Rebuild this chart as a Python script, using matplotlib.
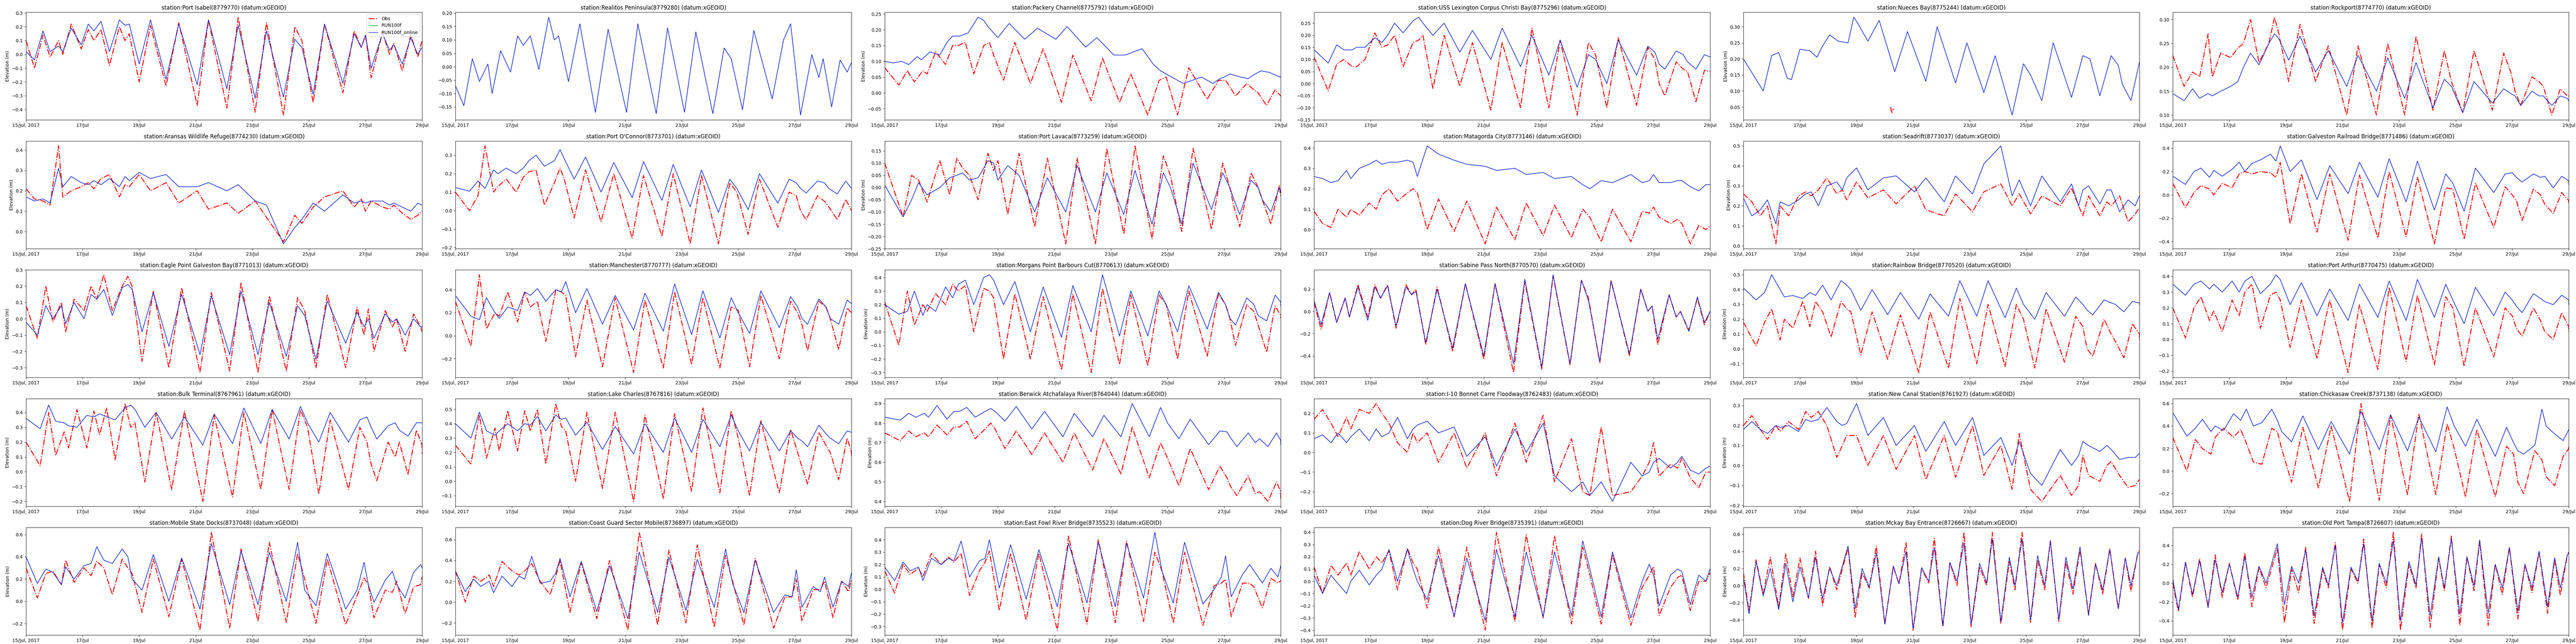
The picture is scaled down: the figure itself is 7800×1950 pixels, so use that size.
import numpy as np
import matplotlib
matplotlib.use("Agg")
import matplotlib.pyplot as plt

# ---------------- time grids (day of July 2017) ----------------
days_diurnal = [15.0, 15.3, 15.6, 15.85, 16.15, 16.3, 16.6, 16.95, 17.2, 17.4,
                17.65, 17.95, 18.3, 18.5, 18.65, 19.0, 19.4, 19.95, 20.4, 21.05,
                21.45, 22.1, 22.5, 23.1, 23.5, 24.1, 24.5, 24.75, 25.15, 25.55,
                26.2, 26.6, 26.85, 27.0, 27.2, 27.6, 27.85, 28.0, 28.3, 28.6,
                28.85, 29.0]
days_semidiurnal = [15.0, 15.2, 15.45, 15.7, 15.95, 16.25, 16.5, 16.75, 17.0, 17.3,
                    17.55, 17.8, 18.05, 18.3, 18.7, 18.95, 19.2, 19.45, 19.7, 20.0,
                    20.3, 20.5, 20.75, 21.0, 21.3, 21.55, 21.75, 22.05, 22.3, 22.55,
                    22.8, 23.05, 23.35, 23.6, 23.8, 24.1, 24.4, 24.6, 24.85, 25.15,
                    25.4, 25.65, 25.85, 26.15, 26.4, 26.65, 26.9, 27.2, 27.45, 27.7,
                    27.95, 28.25, 28.5, 28.7, 28.95, 29.0]

tick_days = [15, 17, 19, 21, 23, 25, 27, 29]
tick_labels = ["15/Jul, 2017", "17/Jul", "19/Jul", "21/Jul", "23/Jul", "25/Jul", "27/Jul", "29/Jul"]

stations = [
    "Port Isabel(8779770)", "Realitos Peninsula(8779280)", "Packery Channel(8775792)",
    "USS Lexington Corpus Christi Bay(8775296)", "Nueces Bay(8775244)", "Rockport(8774770)",
    "Aransas Wildlife Refuge(8774230)", "Port O'Connor(8773701)", "Port Lavaca(8773259)",
    "Matagorda City(8773146)", "Seadrift(8773037)", "Galveston Railroad Bridge(8771486)",
    "Eagle Point Galveston Bay(8771013)", "Manchester(8770777)", "Morgans Point Barbours Cut(8770613)",
    "Sabine Pass North(8770570)", "Rainbow Bridge(8770520)", "Port Arthur(8770475)",
    "Bulk Terminal(8767961)", "Lake Charles(8767816)", "Berwick Atchafalaya River(8764044)",
    "I-10 Bonnet Carre Floodway(8762483)", "New Canal Station(8761927)", "Chickasaw Creek(8737138)",
    "Mobile State Docks(8737048)", "Coast Guard Sector Mobile(8736897)", "East Fowl River Bridge(8735523)",
    "Dog River Bridge(8735391)", "Mckay Bay Entrance(8726667)", "Old Port Tampa(8726607)",
]
# phase shift (days) of each station's extrema relative to the grid: (obs, model)
obs_lag = [0, 0, 0.2, 0.2, 0.4, 0.1, 0, 0.2, 0.35, 0, 0, 0.15, 0.1, 0.25, 0.2, -0.05,
           0.15, 0.15, 0.2, 0.25, 0.25, 0, 0, 0.2, 0.1, 0.05, 0.05, 0, 0, 0]
mod_lag = [0, 0, 0, 0.2, 0.4, 0.1, 0, 0.2, 0.35, 0, 0, 0.15, 0.1, 0.25, 0.2, -0.05,
           0.15, 0.15, 0.2, 0.25, 0.25, 0, 0, 0.2, 0.1, 0.05, 0.05, 0, 0, 0]

# ---------------- elevations (m) ----------------
obs_port_isabel = [0.10, -0.10, 0.14, -0.02, 0.10, 0.0, 0.22, 0.04, 0.18, 0.10, 0.18, -0.08, 0.20, 0.10, 0.15, -0.20, 0.21, -0.23, 0.23, -0.37, 0.25, -0.39, 0.27, -0.42, 0.23, -0.44, 0.20, 0.10, -0.35, 0.22, -0.28, 0.17, 0.05, 0.14, -0.17, 0.16, 0.0, 0.08, -0.12, 0.14, -0.02, 0.10]
mod_port_isabel = [0.02, -0.04, 0.17, 0.02, 0.06, 0.02, 0.19, 0.07, 0.22, 0.17, 0.24, 0.02, 0.25, 0.21, 0.22, -0.07, 0.25, -0.18, 0.22, -0.22, 0.25, -0.25, 0.21, -0.32, 0.17, -0.31, 0.11, 0.05, -0.29, 0.22, -0.21, 0.15, 0.05, 0.14, -0.10, 0.15, 0.03, 0.07, -0.07, 0.12, 0.0, 0.05]

mod_realitos = [-0.07, -0.145, 0.03, -0.055, 0.01, -0.10, 0.06, -0.02, 0.115, 0.08, 0.115, -0.01, 0.185, 0.10, 0.115, -0.055, 0.16, -0.17, 0.14, -0.17, 0.16, -0.175, 0.145, -0.17, 0.13, -0.175, 0.07, 0.03, -0.16, 0.135, -0.12, 0.10, 0.16, 0.02, -0.18, 0.045, -0.04, 0.03, -0.15, 0.025, -0.02, 0.015]

obs_packery = [0.08, 0.025, 0.07, 0.035, 0.07, 0.06, 0.13, 0.09, 0.15, 0.15, 0.16, 0.06, 0.15, 0.16, 0.12, 0.04, 0.16, 0.03, 0.14, -0.03, 0.12, -0.025, 0.11, -0.03, 0.06, -0.07, 0.04, 0.05, -0.07, 0.08, -0.02, 0.04, 0.04, 0.02, -0.01, 0.03, 0.01, 0.0, -0.04, 0.01, -0.01, -0.01]
mod_packery = [0.10, 0.095, 0.10, 0.09, 0.115, 0.105, 0.13, 0.12, 0.16, 0.18, 0.18, 0.19, 0.24, 0.23, 0.21, 0.175, 0.22, 0.17, 0.205, 0.17, 0.21, 0.145, 0.175, 0.12, 0.12, 0.14, 0.09, 0.07, 0.05, 0.03, 0.05, 0.03, 0.045, 0.05, 0.06, 0.05, 0.045, 0.055, 0.07, 0.065, 0.055, 0.05]

obs_uss_lexington = [0.11, -0.03, 0.08, 0.10, 0.07, 0.07, 0.10, 0.21, 0.15, 0.16, 0.20, 0.07, 0.17, 0.18, 0.2, -0.02, 0.2, -0.01, 0.17, -0.11, 0.17, -0.10, 0.23, -0.10, 0.18, -0.13, 0.17, 0.12, -0.10, 0.19, -0.09, 0.15, 0.1, 0.0, -0.05, 0.09, 0.06, 0.05, -0.075, 0.055, 0.05, 0.05]
mod_uss_lexington = [0.14, 0.085, 0.16, 0.14, 0.14, 0.15, 0.15, 0.19, 0.17, 0.2, 0.25, 0.21, 0.26, 0.275, 0.25, 0.2, 0.25, 0.13, 0.22, 0.10, 0.23, 0.07, 0.20, 0.035, 0.18, -0.015, 0.12, 0.10, 0.0, 0.18, 0.035, 0.155, 0.13, 0.08, 0.06, 0.135, 0.12, 0.09, 0.06, 0.12, 0.11, 0.11]

nueces_obs_days = [20.2, 20.25, 20.3]
obs_nueces = [0.05, 0.03, 0.045]
mod_nueces = [0.20, 0.10, 0.21, 0.22, 0.14, 0.135, 0.23, 0.225, 0.205, 0.24, 0.275, 0.255, 0.25, 0.33, 0.31, 0.255, 0.32, 0.16, 0.285, 0.13, 0.30, 0.125, 0.25, 0.095, 0.21, 0.025, 0.185, 0.15, 0.07, 0.25, 0.08, 0.21, 0.2, 0.15, 0.085, 0.21, 0.18, 0.12, 0.07, 0.19, 0.19, 0.19]

obs_rockport = [0.225, 0.16, 0.19, 0.18, 0.27, 0.18, 0.23, 0.22, 0.24, 0.25, 0.30, 0.21, 0.25, 0.305, 0.27, 0.17, 0.29, 0.17, 0.245, 0.10, 0.245, 0.10, 0.25, 0.10, 0.265, 0.11, 0.235, 0.17, 0.105, 0.235, 0.11, 0.23, 0.19, 0.15, 0.12, 0.18, 0.17, 0.16, 0.10, 0.155, 0.14, 0.14]
mod_rockport = [0.145, 0.13, 0.155, 0.135, 0.145, 0.14, 0.15, 0.16, 0.17, 0.2, 0.23, 0.205, 0.25, 0.27, 0.26, 0.215, 0.265, 0.19, 0.235, 0.16, 0.225, 0.15, 0.22, 0.135, 0.21, 0.115, 0.175, 0.16, 0.105, 0.17, 0.125, 0.155, 0.145, 0.14, 0.12, 0.15, 0.14, 0.14, 0.12, 0.14, 0.135, 0.13]

obs_aransas = [0.21, 0.16, 0.15, 0.13, 0.42, 0.17, 0.20, 0.22, 0.24, 0.21, 0.26, 0.28, 0.17, 0.23, 0.22, 0.28, 0.20, 0.24, 0.14, 0.20, 0.11, 0.14, 0.09, 0.15, 0.07, -0.05, 0.08, 0.04, 0.12, 0.17, 0.20, 0.12, 0.16, 0.10, 0.15, 0.12, 0.11, 0.13, 0.09, 0.06, 0.08, 0.10]
mod_aransas = [0.17, 0.15, 0.16, 0.14, 0.31, 0.22, 0.27, 0.24, 0.23, 0.25, 0.23, 0.26, 0.22, 0.27, 0.25, 0.29, 0.26, 0.28, 0.22, 0.22, 0.24, 0.20, 0.23, 0.15, 0.13, -0.06, 0.02, 0.06, 0.14, 0.10, 0.18, 0.14, 0.15, 0.14, 0.15, 0.15, 0.13, 0.14, 0.12, 0.10, 0.14, 0.13]

obs_port_oconnor = [0.10, 0.0, 0.08, 0.35, 0.10, 0.13, 0.17, 0.10, 0.18, 0.21, 0.22, 0.03, 0.15, 0.23, 0.17, -0.04, 0.22, -0.06, 0.20, -0.15, 0.19, -0.14, 0.20, -0.18, 0.19, -0.18, 0.15, 0.10, -0.13, 0.17, -0.09, 0.10, 0.08, 0.0, -0.05, 0.08, 0.05, 0.02, -0.05, 0.06, 0.0, 0.0]
mod_port_oconnor = [0.125, 0.105, 0.16, 0.12, 0.22, 0.2, 0.23, 0.2, 0.23, 0.27, 0.3, 0.24, 0.27, 0.33, 0.28, 0.17, 0.29, 0.10, 0.26, 0.07, 0.265, 0.055, 0.25, 0.02, 0.22, -0.01, 0.17, 0.12, 0.005, 0.2, 0.04, 0.17, 0.15, 0.12, 0.095, 0.16, 0.15, 0.12, 0.09, 0.16, 0.12, 0.12]

obs_port_lavaca = [0.10, -0.12, 0.05, 0.03, -0.06, 0.0, 0.11, -0.03, 0.12, 0.08, 0.05, -0.05, 0.14, 0.07, 0.11, -0.11, 0.14, -0.16, 0.12, -0.23, 0.12, -0.23, 0.16, -0.19, 0.17, -0.21, 0.13, 0.05, -0.18, 0.16, -0.17, 0.10, 0.0, -0.08, -0.16, 0.06, 0.0, -0.05, -0.15, 0.01, -0.04, -0.04]
mod_port_lavaca = [0.01, -0.12, -0.05, 0.02, -0.03, -0.02, 0.0, 0.04, 0.05, 0.06, 0.03, 0.04, 0.11, 0.1, 0.03, 0.09, 0.05, -0.1, 0.04, -0.1, 0.09, -0.1, 0.06, -0.11, 0.07, -0.15, 0.06, 0.0, -0.15, 0.10, -0.09, 0.06, 0.0, -0.05, -0.11, 0.03, 0.0, -0.05, -0.1, 0.0, -0.02, -0.02]

obs_matagorda = [0.09, 0.03, 0.01, 0.10, 0.06, 0.10, 0.07, 0.13, 0.10, 0.17, 0.20, 0.14, 0.18, 0.20, 0.18, 0.0, 0.15, -0.01, 0.14, -0.07, 0.11, -0.05, 0.13, -0.03, 0.12, -0.04, 0.10, 0.06, -0.06, 0.10, -0.06, 0.09, 0.08, 0.11, 0.06, 0.03, 0.05, 0.03, -0.07, 0.02, 0.0, 0.02]
mod_matagorda = [0.26, 0.25, 0.23, 0.24, 0.29, 0.25, 0.30, 0.32, 0.34, 0.32, 0.33, 0.33, 0.34, 0.33, 0.26, 0.41, 0.37, 0.34, 0.32, 0.31, 0.29, 0.3, 0.27, 0.28, 0.25, 0.26, 0.22, 0.2, 0.24, 0.23, 0.27, 0.23, 0.24, 0.27, 0.23, 0.23, 0.24, 0.24, 0.21, 0.19, 0.22, 0.22]

obs_seadrift = [0.26, 0.22, 0.15, 0.20, 0.01, 0.20, 0.15, 0.25, 0.27, 0.25, 0.28, 0.34, 0.26, 0.28, 0.23, 0.32, 0.24, 0.28, 0.21, 0.30, 0.18, 0.15, 0.26, 0.17, 0.27, 0.31, 0.20, 0.26, 0.16, 0.25, 0.20, 0.29, 0.20, 0.15, 0.25, 0.15, 0.22, 0.20, 0.25, 0.12, 0.16, 0.19]
mod_seadrift = [0.24, 0.15, 0.18, 0.23, 0.11, 0.22, 0.20, 0.23, 0.26, 0.27, 0.20, 0.30, 0.32, 0.28, 0.34, 0.39, 0.28, 0.34, 0.35, 0.27, 0.34, 0.22, 0.35, 0.26, 0.41, 0.50, 0.25, 0.33, 0.20, 0.35, 0.22, 0.31, 0.20, 0.28, 0.30, 0.21, 0.28, 0.28, 0.17, 0.23, 0.20, 0.25]

obs_galveston_rr = [0.10, -0.11, 0.02, 0.08, 0.05, 0.0, 0.10, 0.06, 0.18, 0.20, 0.18, 0.20, 0.19, 0.15, 0.28, -0.25, 0.18, -0.32, 0.18, -0.39, 0.17, -0.37, 0.20, -0.36, 0.15, -0.42, 0.06, 0.05, -0.38, 0.10, -0.28, 0.07, 0.0, -0.05, -0.22, 0.05, 0.0, -0.08, -0.16, 0.02, -0.05, -0.07]
mod_galveston_rr = [0.16, 0.09, 0.20, 0.23, 0.15, 0.21, 0.16, 0.22, 0.28, 0.20, 0.27, 0.30, 0.35, 0.29, 0.42, 0.20, 0.30, -0.04, 0.25, 0.01, 0.28, -0.02, 0.31, -0.06, 0.29, -0.13, 0.18, 0.10, -0.14, 0.23, 0.02, 0.18, 0.19, 0.15, 0.11, 0.18, 0.15, 0.16, 0.06, 0.16, 0.12, 0.09]

obs_eagle_point = [0.08, -0.12, 0.20, -0.02, 0.10, -0.08, 0.12, 0.05, 0.20, 0.12, 0.27, 0.05, 0.20, 0.26, 0.20, -0.26, 0.17, -0.30, 0.19, -0.33, 0.16, -0.32, 0.22, -0.33, 0.14, -0.32, 0.13, 0.05, -0.30, 0.15, -0.30, 0.07, -0.10, 0.06, -0.20, 0.05, -0.05, 0.0, -0.20, 0.03, -0.05, -0.08]
mod_eagle_point = [-0.02, -0.10, 0.08, 0.0, 0.08, -0.03, 0.10, 0.0, 0.15, 0.12, 0.18, 0.02, 0.19, 0.21, 0.18, -0.08, 0.16, -0.17, 0.15, -0.22, 0.14, -0.22, 0.17, -0.22, 0.10, -0.23, 0.08, 0.02, -0.25, 0.11, -0.15, 0.04, -0.05, 0.0, -0.12, 0.03, -0.02, 0.0, -0.10, 0.0, -0.05, -0.05]

obs_manchester = [0.30, -0.09, 0.53, 0.06, 0.20, 0.17, 0.38, 0.12, 0.38, 0.25, 0.30, -0.05, 0.40, 0.38, 0.35, -0.18, 0.31, -0.27, 0.33, -0.32, 0.31, -0.28, 0.38, -0.25, 0.33, -0.28, 0.25, 0.22, -0.27, 0.35, -0.20, 0.30, 0.20, 0.10, -0.13, 0.30, 0.25, 0.15, -0.12, 0.24, 0.20, 0.20]
mod_manchester = [0.35, 0.17, 0.14, 0.33, 0.2, 0.15, 0.25, 0.22, 0.38, 0.35, 0.41, 0.30, 0.40, 0.38, 0.47, 0.20, 0.41, 0.10, 0.35, 0.05, 0.37, 0.04, 0.45, 0.01, 0.39, -0.02, 0.33, 0.2, 0.02, 0.39, 0.07, 0.34, 0.25, 0.15, 0.10, 0.32, 0.25, 0.15, 0.10, 0.31, 0.28, 0.28]

obs_morgans_point = [0.22, -0.10, 0.30, 0.05, 0.20, 0.15, 0.28, 0.20, 0.35, 0.30, 0.34, 0.0, 0.32, 0.30, 0.25, -0.20, 0.28, -0.20, 0.26, -0.28, 0.28, -0.30, 0.32, -0.24, 0.27, -0.25, 0.27, 0.20, -0.20, 0.30, -0.18, 0.28, 0.20, 0.10, -0.10, 0.20, 0.15, 0.05, -0.15, 0.19, 0.12, 0.10]
mod_morgans_point = [0.20, 0.13, 0.15, 0.30, 0.12, 0.20, 0.15, 0.33, 0.25, 0.35, 0.38, 0.20, 0.40, 0.42, 0.38, 0.20, 0.37, 0.0, 0.33, -0.04, 0.34, 0.0, 0.42, -0.03, 0.30, -0.03, 0.30, 0.2, 0.0, 0.34, 0.02, 0.29, 0.2, 0.1, 0.05, 0.25, 0.2, 0.12, 0.08, 0.27, 0.22, 0.19]

obs_sabine_pass = [0.08, -0.16, 0.17, -0.10, 0.12, -0.05, 0.24, -0.05, 0.24, 0.12, 0.24, -0.15, 0.24, 0.15, 0.2, -0.30, 0.22, -0.36, 0.25, -0.43, 0.25, -0.55, 0.27, -0.52, 0.32, -0.48, 0.28, 0.12, -0.46, 0.28, -0.40, 0.20, 0.0, 0.05, -0.30, 0.15, -0.05, 0.0, -0.17, 0.12, -0.12, 0.0]
mod_sabine_pass = [0.10, -0.12, 0.17, -0.10, 0.12, -0.05, 0.22, -0.08, 0.22, 0.12, 0.23, -0.13, 0.22, 0.15, 0.18, -0.28, 0.20, -0.33, 0.25, -0.40, 0.25, -0.47, 0.29, -0.50, 0.33, -0.47, 0.28, 0.1, -0.45, 0.27, -0.38, 0.20, 0.0, 0.05, -0.25, 0.15, -0.05, 0.0, -0.18, 0.13, -0.10, 0.0]

obs_rainbow_bridge = [0.18, 0.02, 0.18, 0.27, 0.06, 0.20, 0.14, 0.32, 0.15, 0.32, 0.25, 0.08, 0.32, 0.27, 0.25, -0.04, 0.25, -0.07, 0.23, -0.16, 0.25, -0.13, 0.34, -0.10, 0.30, -0.12, 0.30, 0.20, -0.13, 0.27, -0.09, 0.22, 0.15, 0.0, -0.05, 0.20, 0.10, 0.05, -0.06, 0.17, 0.10, 0.06]
mod_rainbow_bridge = [0.41, 0.33, 0.38, 0.50, 0.40, 0.35, 0.36, 0.34, 0.38, 0.36, 0.43, 0.33, 0.46, 0.43, 0.40, 0.26, 0.40, 0.23, 0.38, 0.20, 0.37, 0.22, 0.46, 0.22, 0.46, 0.21, 0.41, 0.3, 0.20, 0.38, 0.22, 0.35, 0.3, 0.26, 0.23, 0.33, 0.31, 0.30, 0.25, 0.32, 0.31, 0.30]

obs_port_arthur = [0.20, 0.01, 0.20, 0.27, 0.12, 0.18, 0.05, 0.25, 0.15, 0.30, 0.35, 0.07, 0.28, 0.30, 0.25, -0.05, 0.25, -0.12, 0.25, -0.21, 0.22, -0.19, 0.33, -0.14, 0.28, -0.16, 0.27, 0.20, -0.17, 0.20, -0.11, 0.20, 0.15, 0.07, 0.02, 0.20, 0.12, 0.05, 0.0, 0.17, 0.08, 0.05]
mod_port_arthur = [0.35, 0.28, 0.35, 0.37, 0.32, 0.35, 0.30, 0.37, 0.30, 0.37, 0.40, 0.29, 0.35, 0.41, 0.38, 0.22, 0.36, 0.15, 0.32, 0.12, 0.35, 0.14, 0.37, 0.12, 0.38, 0.14, 0.35, 0.25, 0.10, 0.33, 0.15, 0.30, 0.25, 0.21, 0.17, 0.29, 0.26, 0.24, 0.22, 0.28, 0.25, 0.22]

obs_bulk_terminal = [0.20, 0.04, 0.40, 0.11, 0.27, 0.16, 0.42, 0.16, 0.41, 0.25, 0.43, 0.08, 0.46, 0.30, 0.33, -0.07, 0.40, -0.12, 0.41, -0.20, 0.38, -0.17, 0.40, -0.12, 0.42, -0.12, 0.42, 0.30, -0.15, 0.35, -0.12, 0.30, 0.20, 0.05, -0.06, 0.20, 0.10, 0.20, -0.02, 0.28, 0.18, 0.12]
mod_bulk_terminal = [0.36, 0.29, 0.45, 0.34, 0.33, 0.31, 0.30, 0.38, 0.37, 0.39, 0.37, 0.35, 0.43, 0.45, 0.42, 0.30, 0.40, 0.22, 0.37, 0.18, 0.39, 0.19, 0.43, 0.19, 0.42, 0.22, 0.44, 0.33, 0.20, 0.40, 0.20, 0.35, 0.37, 0.30, 0.22, 0.31, 0.33, 0.28, 0.24, 0.33, 0.33, 0.33]

obs_lake_charles = [0.25, 0.12, 0.46, 0.16, 0.37, 0.21, 0.49, 0.21, 0.49, 0.35, 0.50, 0.12, 0.54, 0.38, 0.35, 0.0, 0.48, -0.05, 0.48, -0.14, 0.46, -0.12, 0.47, -0.07, 0.51, -0.08, 0.49, 0.30, -0.10, 0.42, -0.08, 0.36, 0.20, 0.10, -0.02, 0.34, 0.25, 0.20, 0.01, 0.30, 0.20, 0.17]
mod_lake_charles = [0.40, 0.30, 0.48, 0.35, 0.32, 0.35, 0.40, 0.35, 0.40, 0.39, 0.45, 0.35, 0.46, 0.43, 0.44, 0.32, 0.41, 0.22, 0.38, 0.19, 0.40, 0.20, 0.44, 0.20, 0.43, 0.24, 0.46, 0.35, 0.21, 0.41, 0.21, 0.35, 0.30, 0.28, 0.24, 0.39, 0.33, 0.30, 0.26, 0.35, 0.34, 0.34]

obs_berwick = [0.75, 0.71, 0.76, 0.73, 0.75, 0.73, 0.79, 0.74, 0.78, 0.78, 0.81, 0.72, 0.77, 0.80, 0.77, 0.67, 0.76, 0.64, 0.75, 0.60, 0.75, 0.56, 0.72, 0.54, 0.78, 0.52, 0.70, 0.62, 0.48, 0.67, 0.46, 0.58, 0.52, 0.47, 0.43, 0.53, 0.44, 0.45, 0.40, 0.50, 0.45, 0.41]
mod_berwick = [0.83, 0.815, 0.85, 0.83, 0.85, 0.83, 0.89, 0.82, 0.86, 0.86, 0.88, 0.83, 0.86, 0.875, 0.86, 0.81, 0.885, 0.77, 0.86, 0.73, 0.85, 0.73, 0.84, 0.73, 0.90, 0.73, 0.88, 0.80, 0.72, 0.82, 0.69, 0.76, 0.755, 0.72, 0.68, 0.75, 0.70, 0.72, 0.68, 0.75, 0.71, 0.69]

obs_bonnet_carre = [0.17, 0.22, 0.15, 0.08, 0.18, 0.12, 0.22, 0.20, 0.25, 0.20, 0.15, 0.05, 0.0, 0.10, 0.05, 0.10, -0.05, 0.10, -0.08, 0.10, -0.12, 0.15, -0.05, 0.19, -0.15, 0.07, -0.20, -0.22, 0.13, -0.22, -0.20, -0.12, -0.05, 0.05, -0.12, -0.06, -0.08, -0.03, -0.13, -0.18, -0.10, -0.10]
mod_bonnet_carre = [0.07, 0.09, 0.05, 0.10, 0.05, 0.08, 0.12, 0.06, 0.12, 0.08, 0.10, 0.18, 0.07, 0.12, 0.14, 0.16, 0.10, 0.13, -0.02, 0.08, -0.07, 0.12, 0.0, 0.15, -0.12, -0.20, -0.15, -0.22, -0.15, -0.25, -0.05, -0.12, -0.10, -0.05, -0.03, -0.08, -0.05, -0.02, -0.09, -0.11, -0.08, -0.07]

obs_new_canal = [0.20, 0.25, 0.18, 0.13, 0.20, 0.17, 0.22, 0.18, 0.27, 0.24, 0.27, 0.20, 0.04, 0.10, 0.15, 0.15, 0.0, 0.15, -0.02, 0.15, -0.07, 0.15, -0.06, 0.20, -0.05, 0.10, -0.12, 0.16, -0.12, -0.18, -0.05, -0.15, -0.10, 0.05, -0.05, -0.08, 0.0, 0.02, -0.05, -0.11, -0.10, -0.07]
mod_new_canal = [0.18, 0.22, 0.18, 0.16, 0.20, 0.19, 0.20, 0.17, 0.23, 0.22, 0.23, 0.29, 0.22, 0.20, 0.21, 0.31, 0.15, 0.24, 0.10, 0.20, 0.07, 0.22, 0.10, 0.24, 0.05, 0.14, 0.0, 0.12, -0.04, -0.10, 0.08, 0.0, 0.05, 0.12, 0.10, 0.07, 0.10, 0.08, 0.03, 0.04, 0.04, 0.06]

obs_chickasaw = [0.30, 0.0, 0.28, 0.20, 0.15, 0.30, 0.38, 0.30, 0.37, 0.25, 0.08, 0.06, 0.38, 0.35, 0.20, -0.10, 0.39, -0.15, 0.40, -0.27, 0.60, -0.26, 0.50, -0.21, 0.51, -0.21, 0.42, 0.20, -0.23, 0.37, -0.23, 0.22, 0.15, -0.10, -0.20, 0.18, 0.10, -0.05, -0.13, 0.13, 0.20, 0.22]
mod_chickasaw = [0.52, 0.31, 0.38, 0.46, 0.35, 0.40, 0.36, 0.51, 0.45, 0.55, 0.40, 0.43, 0.55, 0.45, 0.35, 0.26, 0.49, 0.19, 0.44, 0.15, 0.53, 0.19, 0.50, 0.18, 0.48, 0.17, 0.57, 0.40, 0.22, 0.46, 0.13, 0.39, 0.25, 0.18, 0.15, 0.23, 0.55, 0.40, 0.33, 0.27, 0.37, 0.37]

obs_mobile_docks = [0.30, 0.03, 0.25, 0.27, 0.15, 0.37, 0.17, 0.30, 0.23, 0.36, 0.30, 0.06, 0.38, 0.30, 0.25, -0.10, 0.38, -0.14, 0.38, -0.26, 0.62, -0.24, 0.47, -0.18, 0.53, -0.19, 0.43, 0.20, -0.20, 0.38, -0.21, 0.05, 0.21, 0.15, -0.15, 0.10, 0.08, 0.18, -0.11, 0.13, 0.15, 0.22]
mod_mobile_docks = [0.40, 0.16, 0.29, 0.26, 0.15, 0.31, 0.20, 0.32, 0.34, 0.49, 0.37, 0.34, 0.47, 0.40, 0.20, 0.10, 0.42, 0.0, 0.39, -0.07, 0.52, -0.03, 0.45, -0.03, 0.44, 0.0, 0.53, 0.10, -0.04, 0.43, -0.07, 0.10, 0.35, 0.15, -0.01, 0.19, 0.27, 0.15, 0.03, 0.26, 0.33, 0.30]

obs_coast_guard = [0.30, 0.0, 0.25, 0.20, 0.26, 0.15, 0.39, 0.30, 0.26, 0.30, 0.37, 0.20, 0.07, 0.25, 0.40, -0.10, 0.38, -0.16, 0.40, -0.27, 0.67, -0.22, 0.50, -0.20, 0.55, -0.24, 0.45, 0.20, -0.22, 0.42, -0.25, 0.05, 0.05, 0.22, -0.18, 0.12, 0.12, 0.20, -0.15, 0.20, 0.10, 0.22]
mod_coast_guard = [0.30, 0.10, 0.22, 0.15, 0.20, 0.09, 0.25, 0.15, 0.25, 0.22, 0.44, 0.18, 0.20, 0.28, 0.42, 0.05, 0.39, -0.09, 0.35, -0.16, 0.48, -0.10, 0.43, -0.08, 0.41, -0.05, 0.51, 0.18, -0.10, 0.40, -0.10, 0.07, 0.05, 0.31, -0.05, 0.15, 0.10, 0.24, -0.05, 0.20, 0.15, 0.28]

obs_east_fowl = [0.15, -0.03, 0.20, 0.12, 0.17, 0.10, 0.29, 0.20, 0.26, 0.22, 0.29, -0.05, 0.15, 0.22, 0.31, -0.17, 0.29, -0.25, 0.29, -0.33, 0.43, -0.28, 0.40, -0.27, 0.39, -0.26, 0.30, 0.15, -0.27, 0.30, -0.29, 0.03, 0.05, 0.08, -0.22, 0.05, 0.05, 0.02, -0.15, 0.09, 0.05, 0.07]
mod_east_fowl = [0.18, 0.07, 0.22, 0.15, 0.18, 0.07, 0.25, 0.20, 0.25, 0.23, 0.39, 0.10, 0.23, 0.25, 0.40, 0.01, 0.36, -0.08, 0.32, -0.14, 0.37, -0.11, 0.38, -0.14, 0.37, -0.07, 0.46, 0.15, -0.11, 0.38, -0.12, 0.0, 0.10, 0.27, -0.06, 0.12, 0.20, 0.15, 0.05, 0.17, 0.10, 0.19]

obs_dog_river = [0.12, -0.10, 0.13, 0.05, 0.15, 0.05, 0.24, 0.10, 0.20, 0.15, 0.25, -0.07, 0.27, 0.15, 0.10, -0.22, 0.28, -0.29, 0.28, -0.40, 0.40, -0.33, 0.38, -0.30, 0.37, -0.35, 0.28, 0.05, -0.35, 0.22, -0.36, -0.05, 0.05, 0.12, -0.28, -0.05, 0.03, 0.05, -0.24, 0.0, 0.0, 0.07]
mod_dog_river = [0.05, -0.10, 0.05, -0.02, -0.10, 0.0, 0.09, -0.03, 0.05, 0.10, 0.26, 0.0, 0.26, 0.10, 0.0, -0.15, 0.21, -0.29, 0.19, -0.32, 0.26, -0.29, 0.24, -0.29, 0.24, -0.28, 0.33, 0.10, -0.29, 0.24, -0.30, 0.0, 0.14, 0.05, -0.20, 0.05, 0.10, 0.08, -0.19, 0.05, 0.0, 0.10]

obs_mckay_bay = [0.15, -0.30, 0.30, -0.10, 0.33, -0.25, 0.37, -0.13, 0.32, -0.15, 0.40, -0.23, 0.22, -0.05, 0.44, -0.37, 0.15, -0.03, 0.46, -0.45, 0.22, 0.02, 0.50, -0.52, 0.20, 0.03, 0.55, -0.48, 0.27, 0.0, 0.62, -0.48, 0.22, 0.0, 0.62, -0.45, 0.28, -0.05, 0.62, -0.43, 0.30, -0.05, 0.52, -0.42, 0.28, -0.10, 0.42, -0.33, 0.26, -0.10, 0.43, -0.27, 0.32, -0.07, 0.40, 0.40]
mod_mckay_bay = [0.10, -0.33, 0.28, -0.12, 0.20, -0.28, 0.26, -0.19, 0.22, -0.14, 0.33, -0.15, 0.20, 0.0, 0.46, -0.27, 0.20, -0.02, 0.38, -0.45, 0.23, 0.02, 0.40, -0.50, 0.21, 0.05, 0.44, -0.47, 0.27, 0.05, 0.50, -0.45, 0.26, 0.03, 0.54, -0.42, 0.33, 0.0, 0.54, -0.40, 0.35, 0.0, 0.52, -0.40, 0.33, -0.04, 0.45, -0.35, 0.25, -0.05, 0.42, -0.27, 0.32, 0.0, 0.38, 0.38]

obs_old_port_tampa = [0.0, -0.30, 0.22, -0.15, 0.26, -0.25, 0.30, -0.15, 0.21, -0.18, 0.32, -0.25, 0.17, -0.05, 0.37, -0.42, 0.15, -0.10, 0.38, -0.43, 0.15, -0.05, 0.43, -0.50, 0.15, 0.0, 0.47, -0.48, 0.20, -0.05, 0.54, -0.50, 0.20, -0.05, 0.52, -0.47, 0.27, -0.08, 0.50, -0.45, 0.28, -0.08, 0.45, -0.45, 0.20, -0.12, 0.38, -0.38, 0.20, -0.10, 0.33, -0.32, 0.25, -0.13, 0.30, 0.32]
mod_old_port_tampa = [0.05, -0.28, 0.22, -0.12, 0.24, -0.26, 0.25, -0.10, 0.20, -0.15, 0.28, -0.15, 0.18, 0.0, 0.42, -0.23, 0.18, 0.0, 0.35, -0.35, 0.17, -0.02, 0.40, -0.42, 0.17, 0.02, 0.42, -0.40, 0.21, 0.0, 0.45, -0.40, 0.23, -0.02, 0.48, -0.35, 0.28, -0.05, 0.47, -0.33, 0.28, -0.03, 0.46, -0.32, 0.20, -0.05, 0.38, -0.30, 0.20, -0.05, 0.34, -0.25, 0.27, -0.05, 0.30, 0.33]

obs_series = [obs_port_isabel, None, obs_packery, obs_uss_lexington, obs_nueces, obs_rockport,
              obs_aransas, obs_port_oconnor, obs_port_lavaca, obs_matagorda, obs_seadrift, obs_galveston_rr,
              obs_eagle_point, obs_manchester, obs_morgans_point, obs_sabine_pass, obs_rainbow_bridge, obs_port_arthur,
              obs_bulk_terminal, obs_lake_charles, obs_berwick, obs_bonnet_carre, obs_new_canal, obs_chickasaw,
              obs_mobile_docks, obs_coast_guard, obs_east_fowl, obs_dog_river, obs_mckay_bay, obs_old_port_tampa]
mod_series = [mod_port_isabel, mod_realitos, mod_packery, mod_uss_lexington, mod_nueces, mod_rockport,
              mod_aransas, mod_port_oconnor, mod_port_lavaca, mod_matagorda, mod_seadrift, mod_galveston_rr,
              mod_eagle_point, mod_manchester, mod_morgans_point, mod_sabine_pass, mod_rainbow_bridge, mod_port_arthur,
              mod_bulk_terminal, mod_lake_charles, mod_berwick, mod_bonnet_carre, mod_new_canal, mod_chickasaw,
              mod_mobile_docks, mod_coast_guard, mod_east_fowl, mod_dog_river, mod_mckay_bay, mod_old_port_tampa]


def times_for(grid, lag, n):
    t = np.array(grid[:n], dtype=float) + lag
    t[0] = grid[0]
    t[-1] = grid[-1]
    return np.clip(t, 15.0, 29.0)


fig, axes = plt.subplots(5, 6, figsize=(78, 19.5), dpi=100)
fig.subplots_adjust(left=0.0101, right=0.9972, top=0.981, bottom=0.0138,
                    wspace=0.084, hspace=0.196)

for i, ax in enumerate(axes.flat):
    grid = days_semidiurnal if i >= 28 else days_diurnal
    mv = mod_series[i]
    n = min(len(grid), len(mv))
    tm = times_for(grid, mod_lag[i], n)
    ov = obs_series[i]
    if ov is not None:
        if i == 4:
            to = np.array(nueces_obs_days)
            oy = np.array(ov)
        else:
            no = min(len(grid), len(ov))
            to = times_for(grid, obs_lag[i], no)
            oy = np.array(ov[:no])
        ax.plot(to, oy, color='red', linestyle='-.', linewidth=2.0, label='Obs')
    else:
        ax.plot([], [], color='red', linestyle='-.', linewidth=2.0, label='Obs')
    ax.plot(tm, mv[:n], color='green', linewidth=1.0, label='RUN100f')
    ax.plot(tm, mv[:n], color='blue', linewidth=1.0, label='RUN100f_online')
    ax.set_xlim(15, 29)
    ax.set_xticks(tick_days)
    ax.set_xticklabels(tick_labels)
    ax.set_title("station:%s (datum:xGEOID)" % stations[i], fontsize=12)
    if i % 6 in (0, 2, 4):
        ax.set_ylabel("Elevation (m)")
    if i == 0:
        ax.legend(loc='upper right')

fig.savefig("out.png", dpi=100)
